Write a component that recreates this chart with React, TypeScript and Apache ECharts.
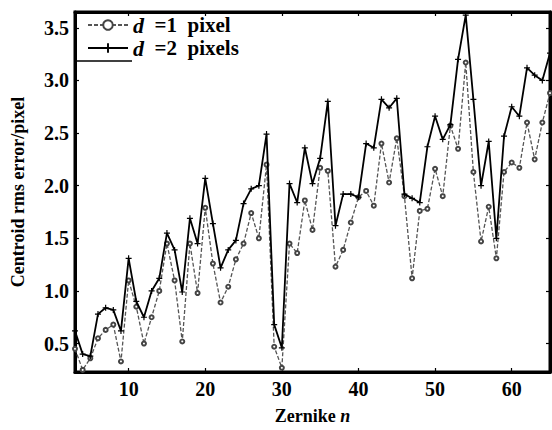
import React, { useEffect, useRef } from "react";
import * as echarts from "echarts";

const zernikeN = [3, 4, 5, 6, 7, 8, 9, 10, 11, 12, 13, 14, 15, 16, 17, 18, 19, 20, 21, 22, 23, 24, 25, 26, 27, 28, 29, 30, 31, 32, 33, 34, 35, 36, 37, 38, 39, 40, 41, 42, 43, 44, 45, 46, 47, 48, 49, 50, 51, 52, 53, 54, 55, 56, 57, 58, 59, 60, 61, 62, 63, 64, 65];

const d1Values = [0.45, 0.25, 0.36, 0.55, 0.63, 0.68, 0.33, 1.10, 0.85, 0.50, 0.75, 1.00, 1.45, 1.10, 0.52, 1.45, 0.98, 1.79, 1.26, 0.89, 1.04, 1.30, 1.45, 1.74, 1.50, 2.20, 0.47, 0.27, 1.45, 1.36, 1.86, 1.58, 2.17, 2.14, 1.23, 1.39, 1.65, 1.89, 1.95, 1.81, 2.40, 2.03, 2.45, 1.90, 1.12, 1.76, 1.78, 2.16, 1.90, 2.57, 2.35, 3.17, 2.13, 1.47, 1.80, 1.31, 2.13, 2.22, 2.17, 2.60, 2.25, 2.60, 2.88];

const d2Values = [0.62, 0.40, 0.38, 0.78, 0.84, 0.82, 0.62, 1.31, 0.90, 0.75, 1.00, 1.12, 1.55, 1.39, 0.99, 1.69, 1.45, 2.07, 1.64, 1.22, 1.39, 1.48, 1.83, 1.97, 2.00, 2.49, 0.68, 0.46, 2.02, 1.84, 2.36, 2.02, 2.26, 2.80, 1.62, 1.92, 1.92, 1.89, 2.40, 2.36, 2.82, 2.74, 2.83, 1.92, 1.88, 1.84, 2.37, 2.66, 2.44, 2.58, 3.20, 3.62, 2.82, 2.00, 2.42, 1.50, 2.47, 2.75, 2.66, 3.12, 3.05, 3.00, 3.26];

const xTicks = [10, 20, 30, 40, 50, 60];
const yTicks = [0.5, 1.0, 1.5, 2.0, 2.5, 3.0, 3.5];

const FONT = "'Liberation Serif', 'DejaVu Serif', serif";
const PLUS = "path://M4,0h2v4h4v2h-4v4h-2v-4h-4v-2h4z";

export default function App() {
  const ref = useRef<HTMLDivElement>(null);
  useEffect(() => {
    if (!ref.current) return;
    const chart = echarts.init(ref.current, null, { renderer: "svg" });
    const tickStyle = { show: true, inside: true, length: 4, lineStyle: { color: "#000", width: 1.2 } };
    chart.setOption({
      animation: false,
      backgroundColor: "#fff",
      textStyle: { fontFamily: FONT },
      grid: { left: 75, right: 2, top: 12, bottom: 56, show: true, borderColor: "#000", borderWidth: 3, backgroundColor: "transparent" },
      legend: {
        orient: "vertical",
        left: 82,
        top: 9,
        itemWidth: 40,
        itemHeight: 12,
        itemGap: 1,
        data: ["d1", "d2"],
        formatter: (name: string) => (name === "d1" ? "{i|d}  =1  pixel" : "{i|d}  =2  pixels"),
        textStyle: {
          fontFamily: FONT,
          fontSize: 21,
          fontWeight: "bold",
          color: "#000",
          rich: {
            i: { fontFamily: FONT, fontSize: 22, fontStyle: "italic", fontWeight: "bold", color: "#000" },
          },
        },
      },
      graphic: [
        { type: "line", shape: { x1: 75, y1: 61, x2: 132, y2: 61 }, style: { stroke: "#000", lineWidth: 1.5 } },
      ],
      xAxis: [
        {
          type: "value",
          min: 3,
          max: 65,
          axisLine: { show: true, lineStyle: { color: "#000", width: 3 } },
          axisTick: { ...tickStyle, customValues: xTicks },
          axisLabel: { customValues: xTicks, color: "#000", fontFamily: FONT, fontSize: 20, fontWeight: "bold", margin: 7 },
          splitLine: { show: false },
          name: "{a|Zernike }{b|n}",
          nameLocation: "middle",
          nameGap: 35,
          nameTextStyle: {
            rich: {
              a: { fontFamily: FONT, fontSize: 18, fontWeight: "bold", color: "#000" },
              b: { fontFamily: FONT, fontSize: 18, fontWeight: "bold", fontStyle: "italic", color: "#000" },
            },
          },
        },
        {
          type: "value",
          position: "top",
          min: 3,
          max: 65,
          axisLine: { show: true, lineStyle: { color: "#000", width: 3 } },
          axisTick: { ...tickStyle, customValues: xTicks },
          axisLabel: { show: false },
          splitLine: { show: false },
        },
      ],
      yAxis: [
        {
          type: "value",
          min: 0.23,
          max: 3.65,
          axisLine: { show: true, lineStyle: { color: "#000", width: 3 } },
          axisTick: { ...tickStyle, customValues: yTicks },
          axisLabel: {
            customValues: yTicks,
            color: "#000",
            fontFamily: FONT,
            fontSize: 20,
            fontWeight: "bold",
            margin: 6,
            formatter: (v: number) => v.toFixed(1),
          },
          splitLine: { show: false },
          name: "Centroid rms error/pixel",
          nameLocation: "middle",
          nameRotate: 90,
          nameGap: 48,
          nameTextStyle: { fontFamily: FONT, fontSize: 18, fontWeight: "bold", color: "#000" },
        },
        {
          type: "value",
          position: "right",
          min: 0.23,
          max: 3.65,
          axisLine: { show: true, lineStyle: { color: "#000", width: 3 } },
          axisTick: { ...tickStyle, customValues: yTicks },
          axisLabel: { show: false },
          splitLine: { show: false },
        },
      ],
      series: [
        {
          name: "d1",
          type: "line",
          data: zernikeN.map((n, i) => [n, d1Values[i]]),
          symbol: "emptyCircle",
          symbolSize: 4,
          lineStyle: { color: "#555", width: 1.3, type: [4, 2] },
          itemStyle: { color: "#444", borderColor: "#444", borderWidth: 1 },
          z: 2,
        },
        {
          name: "d2",
          type: "line",
          data: zernikeN.map((n, i) => [n, d2Values[i]]),
          symbol: PLUS,
          symbolSize: 6,
          lineStyle: { color: "#000", width: 1.8 },
          itemStyle: { color: "#000" },
          z: 3,
        },
      ],
    });
    return () => chart.dispose();
  }, []);
  return <div ref={ref} style={{ width: 552, height: 430, position: "absolute", left: 0, top: 0 }} />;
}
